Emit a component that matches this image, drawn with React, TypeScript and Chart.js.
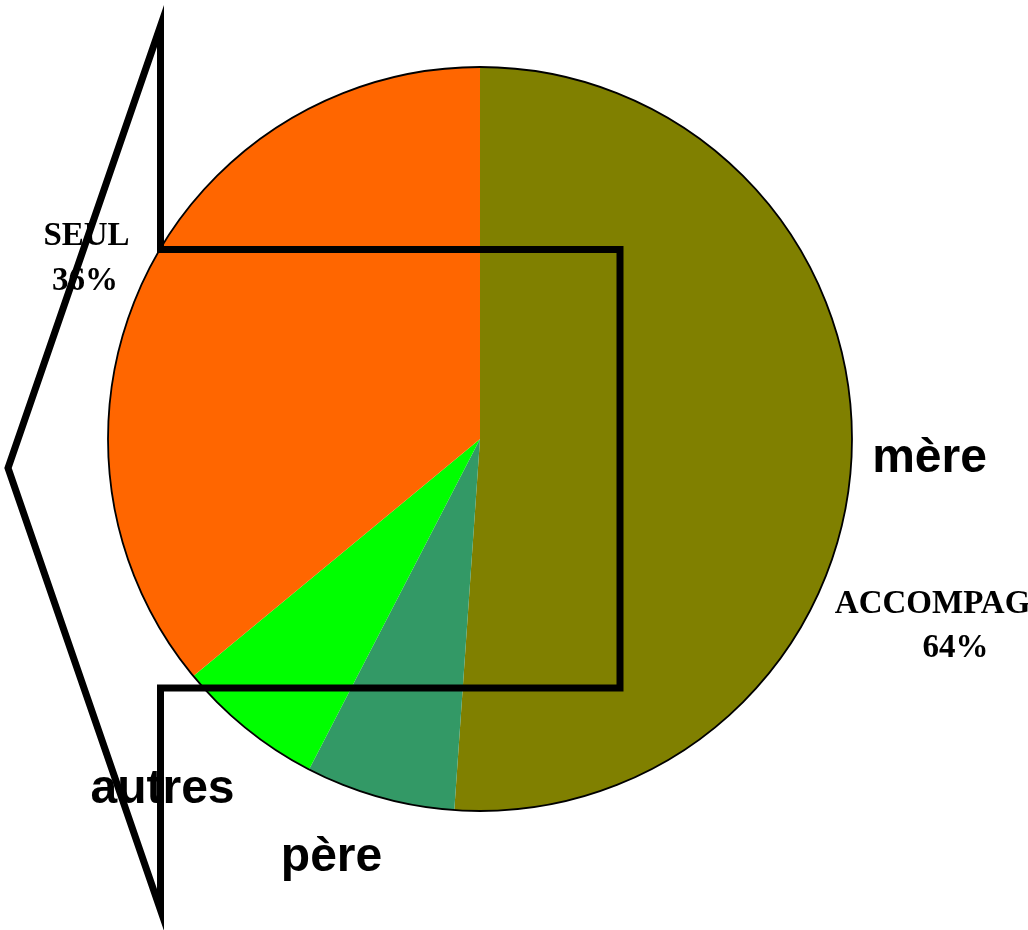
import React, { useEffect, useRef } from "react";
import { Chart, registerables } from "chart.js";

Chart.register(...registerables);

// Slices, clockwise from 12 o'clock
const categories = ["mère", "père", "autres", "SEUL"];
const values = [51.1, 6.5, 6.4, 36.0];
const colors = ["#808000", "#339966", "#00FF00", "#FF6600"];

// Group labels (SEUL vs ACCOMPAGNÉ = mère + père + autres)
const groupNames = ["SEUL", "ACCOMPAGNÉ"];
const seulPct = Math.round(values[3]);
const accPct = Math.round(values[0] + values[1] + values[2]);
const groupPercents = [`${seulPct}%`, `${accPct}%`];

const overlayPlugin = {
  id: "overlay",
  afterDatasetsDraw(chart: any) {
    const ctx: CanvasRenderingContext2D = chart.ctx;
    const arc = chart.getDatasetMeta(0).data[0] as any;
    const cx = arc.x;
    const cy = arc.y;
    const r = arc.outerRadius;

    ctx.save();
    // outer outline of pie
    ctx.beginPath();
    ctx.arc(cx, cy, r, 0, Math.PI * 2);
    ctx.lineWidth = 1.8;
    ctx.strokeStyle = "#000";
    ctx.stroke();

    // arrow / bracket shape
    ctx.beginPath();
    ctx.moveTo(160.5, 249.5);
    ctx.lineTo(160.5, 26);
    ctx.lineTo(8, 468);
    ctx.lineTo(160.5, 910);
    ctx.lineTo(160.5, 688);
    ctx.lineTo(620, 688);
    ctx.lineTo(620, 249.5);
    ctx.closePath();
    ctx.lineWidth = 7;
    ctx.lineJoin = "miter";
    ctx.miterLimit = 10;
    ctx.strokeStyle = "#000";
    ctx.stroke();

    // labels
    ctx.fillStyle = "#000";
    ctx.textAlign = "center";
    ctx.textBaseline = "alphabetic";
    ctx.font = "bold 33px 'Liberation Serif', 'Times New Roman', serif";
    ctx.fillText(groupNames[0], 86.5, 245);
    ctx.fillText(groupPercents[0], 85, 290);
    ctx.fillText(groupNames[1], 955.5, 613);
    ctx.fillText(groupPercents[1], 955.5, 657);

    ctx.font = "bold 48px 'Liberation Sans', Arial, sans-serif";
    ctx.fillText(categories[0], 929.5, 472);
    ctx.fillText(categories[2], 162.5, 803);
    ctx.fillText(categories[1], 331.5, 871);
    ctx.restore();
  },
};

export default function App() {
  const ref = useRef<HTMLCanvasElement | null>(null);

  useEffect(() => {
    if (!ref.current) return;
    const chart = new Chart(ref.current, {
      type: "pie",
      data: {
        labels: categories,
        datasets: [
          {
            data: values,
            backgroundColor: colors,
            borderWidth: 0,
            hoverOffset: 0,
            offset: 0,
          },
        ],
      },
      options: {
        responsive: false,
        animation: false,
        events: [],
        layout: { padding: { left: 108, right: 176, top: 67, bottom: 119 } },
        plugins: {
          legend: { display: false },
          tooltip: { enabled: false },
          title: { display: false },
        },
      },
      plugins: [overlayPlugin],
    });
    return () => chart.destroy();
  }, []);

  return (
    <div style={{ position: "absolute", left: 0, top: 0, width: 1028, height: 930, background: "#fff" }}>
      <canvas ref={ref} width={1028} height={930} style={{ display: "block" }} />
    </div>
  );
}
